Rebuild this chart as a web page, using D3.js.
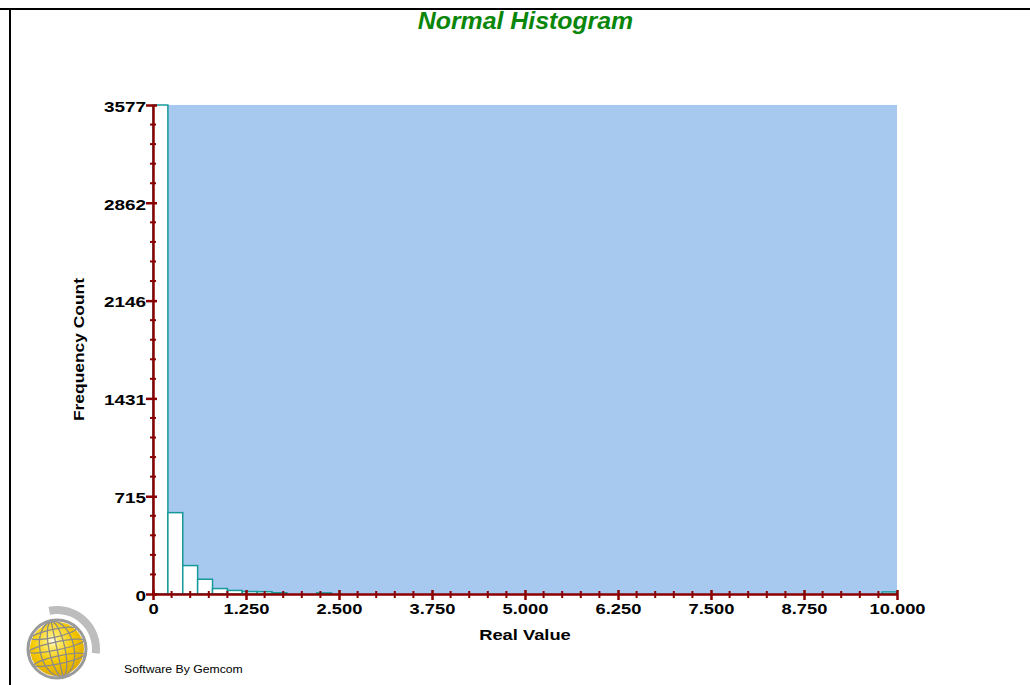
<!DOCTYPE html>
<html>
<head>
<meta charset="utf-8">
<script src="https://cdn.jsdelivr.net/npm/d3@7/dist/d3.min.js"></script>
<style>
  html, body { margin: 0; padding: 0; background: #fff; }
  svg { display: block; }
</style>
</head>
<body>
<svg id="chart" width="1030" height="685"></svg>
<script>
// ---- data ----
const binWidth = 0.2;
const binStarts = [0, 0.2, 0.4, 0.6, 0.8, 1.0, 1.2, 1.4, 1.6, 2.2, 9.8];
const binCounts = [3577, 595, 208, 108, 40, 26, 18, 17, 9, 8, 15];
const xTickValues = [0, 1.25, 2.5, 3.75, 5, 6.25, 7.5, 8.75, 10];
const xTickLabels = ["0", "1.250", "2.500", "3.750", "5.000", "6.250", "7.500", "8.750", "10.000"];
const yTickValues = [0, 715, 1431, 2146, 2862, 3577];
const yTickLabels = ["0", "715", "1431", "2146", "2862", "3577"];
const xDomain = [0, 10];
const yDomain = [0, 3577];
const titleText = "Normal Histogram";
const xTitle = "Real Value";
const yTitle = "Frequency Count";
const creditText = "Software By Gemcom";

// ---- layout ----
const svg = d3.select("#chart");
const L = 153, R = 897, T = 105, B = 594;
const axisColor = "#8B0000";
const font = "'Liberation Sans', Arial, sans-serif";

const x = d3.scaleLinear().domain(xDomain).range([L, R]);
const y = d3.scaleLinear().domain(yDomain).range([B, T]);

function stretch(sel, f) {
  sel.each(function () {
    const w = this.getComputedTextLength();
    this.setAttribute("textLength", (w * f).toFixed(1));
    this.setAttribute("lengthAdjust", "spacingAndGlyphs");
  });
}

// frame
svg.append("line").attr("x1", 0).attr("x2", 1030).attr("y1", 9).attr("y2", 9)
  .attr("stroke", "#000").attr("stroke-width", 2);
svg.append("line").attr("x1", 10).attr("x2", 10).attr("y1", 8).attr("y2", 685)
  .attr("stroke", "#000").attr("stroke-width", 2);

// title
svg.append("text").attr("x", 525.5).attr("y", 29).attr("text-anchor", "middle")
  .attr("font-family", font).attr("font-size", 23).attr("font-weight", "bold")
  .attr("font-style", "italic").attr("fill", "#0a870a").text(titleText)
  .call(stretch, 1.08);

// plot background
svg.append("rect").attr("x", x(xDomain[0])).attr("y", y(yDomain[1]))
  .attr("width", x(xDomain[1]) - x(xDomain[0])).attr("height", y(0) - y(yDomain[1]))
  .attr("fill", "#A8C9EF");

// bars
svg.append("g").selectAll("rect").data(binStarts).join("rect")
  .attr("x", d => x(d))
  .attr("width", d => x(d + binWidth) - x(d))
  .attr("y", (d, i) => y(binCounts[i]))
  .attr("height", (d, i) => y(0) - y(binCounts[i]))
  .attr("fill", "#fff")
  .attr("stroke", "#16999a")
  .attr("stroke-width", 1.5);

// minor ticks
const xMinor = d3.range(0, 40).map(i => i * 0.25).filter(v => !xTickValues.includes(v));
const yStep = yDomain[1] / 25;
const yMinor = d3.range(1, 25).filter(i => i % 5 !== 0).map(i => i * yStep);

svg.append("g").selectAll("line").data(xMinor).join("line")
  .attr("x1", d => x(d)).attr("x2", d => x(d))
  .attr("y1", B - 3).attr("y2", B + 4)
  .attr("stroke", axisColor).attr("stroke-width", 2);
svg.append("g").selectAll("line").data(yMinor).join("line")
  .attr("y1", d => y(d)).attr("y2", d => y(d))
  .attr("x1", L - 3).attr("x2", L + 3)
  .attr("stroke", axisColor).attr("stroke-width", 2);

// x axis
const xAxis = d3.axisBottom(x).tickValues(xTickValues)
  .tickFormat((d, i) => xTickLabels[i]).tickSize(6).tickSizeOuter(0).tickPadding(3);
const gx = svg.append("g").attr("transform", `translate(0,${B})`).call(xAxis);
gx.select(".domain").attr("stroke", axisColor).attr("stroke-width", 2.5);
gx.selectAll(".tick line").attr("y1", -4).attr("y2", 6)
  .attr("stroke", axisColor).attr("stroke-width", 2.5);
gx.selectAll(".tick text").attr("font-family", font).attr("font-size", 15)
  .attr("font-weight", "bold").attr("fill", "#000").call(stretch, 1.22);

// y axis
const yAxis = d3.axisLeft(y).tickValues(yTickValues)
  .tickFormat((d, i) => yTickLabels[i]).tickSize(6).tickSizeOuter(0).tickPadding(1);
const gy = svg.append("g").attr("transform", `translate(${L},0)`).call(yAxis);
gy.select(".domain").attr("stroke", axisColor).attr("stroke-width", 2.5);
gy.selectAll(".tick line").attr("x1", 4).attr("x2", -7)
  .attr("stroke", axisColor).attr("stroke-width", 2.5);
gy.selectAll(".tick text").attr("font-family", font).attr("font-size", 15)
  .attr("font-weight", "bold").attr("fill", "#000").attr("dy", "0.42em")
  .call(stretch, 1.26);

// axis titles
svg.append("text").attr("x", (L + R) / 2).attr("y", 640).attr("text-anchor", "middle")
  .attr("font-family", font).attr("font-size", 15).attr("font-weight", "bold")
  .attr("fill", "#000").text(xTitle).call(stretch, 1.22);
svg.append("text").attr("transform", `translate(84,${(T + B) / 2}) rotate(-90)`)
  .attr("text-anchor", "middle")
  .attr("font-family", font).attr("font-size", 15).attr("font-weight", "bold")
  .attr("fill", "#000").text(yTitle).call(stretch, 1.16);

// logo
const defs = svg.append("defs");
const rg = defs.append("radialGradient").attr("id", "gold")
  .attr("cx", "0.42").attr("cy", "0.35").attr("r", "0.7");
rg.append("stop").attr("offset", "0").attr("stop-color", "#ffffff");
rg.append("stop").attr("offset", "0.15").attr("stop-color", "#ffec70");
rg.append("stop").attr("offset", "0.55").attr("stop-color", "#f5c800");
rg.append("stop").attr("offset", "1").attr("stop-color", "#d9a400");

const logo = svg.append("g").attr("transform", "translate(57,649)");
logo.append("path")
  .attr("d", d3.arc().innerRadius(35).outerRadius(43).startAngle(-0.2).endAngle(1.68)())
  .attr("fill", "#bdbdbd");
logo.append("circle").attr("r", 27).attr("fill", "url(#gold)");
const wire = logo.append("g").attr("fill", "none").attr("stroke", "#8a8a8a").attr("stroke-width", 1.3)
  .attr("transform", "rotate(-12)");
[8, 17].forEach(rx => wire.append("ellipse").attr("rx", rx).attr("ry", 28));
wire.append("line").attr("x1", 0).attr("x2", 0).attr("y1", -28).attr("y2", 28);
[-16, -3, 11].forEach(cy => {
  const hw = Math.sqrt(28 * 28 - cy * cy);
  wire.append("ellipse").attr("cx", 0).attr("cy", cy).attr("rx", hw).attr("ry", 4);
});
logo.append("circle").attr("r", 29).attr("fill", "none").attr("stroke", "#9a9a9a").attr("stroke-width", 3);

svg.append("text").attr("x", 124).attr("y", 673)
  .attr("font-family", font).attr("font-size", 10).attr("fill", "#000")
  .text(creditText).call(stretch, 1.22);
</script>
</body>
</html>
